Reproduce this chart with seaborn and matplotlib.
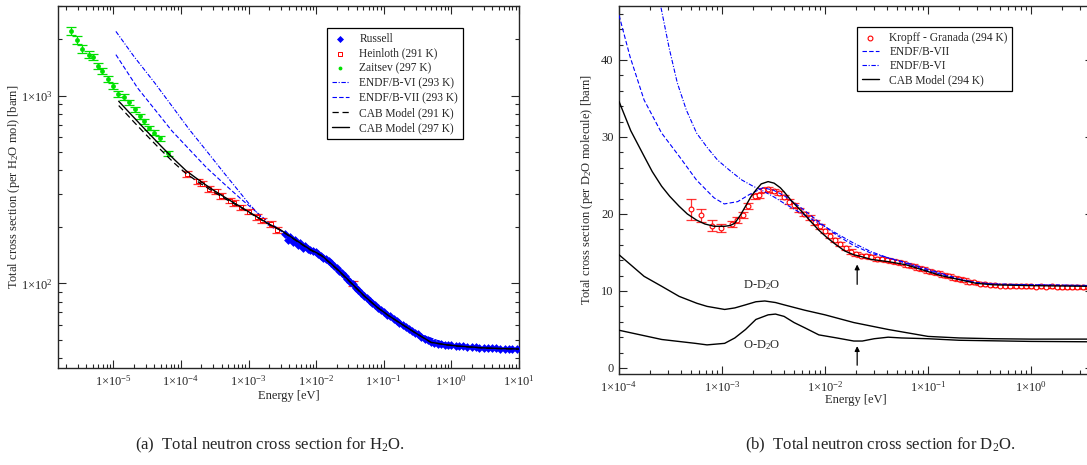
import numpy as np
import matplotlib
matplotlib.use("Agg")
import matplotlib.pyplot as plt
import seaborn as sns
from matplotlib.ticker import FuncFormatter, LogLocator, MultipleLocator, NullFormatter

# ---------------- (a) H2O ----------------
zaitsev_e = [2.38e-6, 2.88e-6, 3.39e-6, 4.29e-6, 5.06e-6, 5.96e-6, 6.78e-6, 8.38e-6, 1.0e-5, 1.18e-5,
             1.42e-5, 1.68e-5, 2.07e-5, 2.45e-5, 2.81e-5, 3.40e-5, 4.01e-5, 4.95e-5, 6.41e-5]
zaitsev_xs = [2213, 1982, 1771, 1652, 1603, 1442, 1358, 1231, 1130, 1020,
              984, 922, 844, 776, 728, 672, 634, 591, 492]
zaitsev_err = [110, 95, 80, 70, 65, 58, 52, 45, 40, 35, 32, 29, 26, 23, 21, 19, 18, 17, 14]

heinloth_e = [1.22e-4, 1.78e-4, 2.08e-4, 2.57e-4, 3.33e-4, 3.97e-4, 5.33e-4, 6.13e-4, 7.76e-4,
              1.0e-3, 1.32e-3, 1.57e-3, 2.11e-3, 2.67e-3, 3.55e-2]
heinloth_xs = [384, 349, 340, 319, 309, 291, 276, 268, 254, 241, 226, 217, 207, 193, 100]
heinloth_err = [14, 12, 11, 11, 10, 10, 9, 9, 8, 8, 8, 7, 7, 7, 3.5]

russell_e = [3.5e-3, 3.8e-3, 4.1e-3, 4.5e-3, 4.9e-3, 5.3e-3, 5.8e-3, 6.3e-3, 6.9e-3, 7.5e-3,
             8.2e-3, 9.0e-3, 9.8e-3, 1.07e-2, 1.17e-2, 1.28e-2, 1.40e-2, 1.53e-2, 1.67e-2, 1.83e-2,
             2.0e-2, 2.2e-2, 2.4e-2, 2.65e-2, 2.9e-2, 3.2e-2, 3.5e-2, 3.85e-2, 4.2e-2, 4.6e-2,
             5.1e-2, 5.6e-2, 6.2e-2, 6.8e-2, 7.5e-2, 8.3e-2, 9.2e-2, 0.102, 0.113, 0.125,
             0.14, 0.155, 0.17, 0.19, 0.21, 0.235, 0.26, 0.29, 0.32, 0.36,
             0.40, 0.45, 0.5, 0.56, 0.63, 0.7, 0.8, 0.9, 1.0, 1.15,
             1.3, 1.5, 1.7, 2.0, 2.3, 2.6, 3.0, 3.5, 4.0, 4.6, 5.3, 6.1, 7.0, 8.0, 9.2]
russell_xs = [183, 170, 176, 165, 171, 160, 164, 155, 158, 152,
              151, 148, 146, 143, 140, 137, 134, 131, 128, 124,
              120, 116, 113, 110, 106, 102, 99, 95, 92, 89,
              86, 83.5, 80.8, 78.4, 76.2, 74.0, 72.0, 70.0, 68.2, 66.6,
              64.8, 63.2, 61.8, 60.2, 58.8, 57.2, 55.8, 54.6, 53.4, 52.0,
              50.8, 49.8, 48.8, 48.2, 47.7, 47.4, 47.1, 46.9, 46.7, 46.5,
              46.3, 46.1, 45.9, 45.8, 45.6, 45.5, 45.3, 45.2, 45.1, 45.0, 44.9, 44.9, 44.8, 44.8, 44.7]

cab_e = [1.2e-5, 2e-5, 3e-5, 5e-5, 8e-5, 1.2e-4, 2e-4, 3e-4, 5e-4, 8e-4, 1.2e-3, 2e-3, 3e-3,
         5e-3, 8e-3, 1.2e-2, 2e-2, 3e-2, 5e-2, 8e-2, 0.12, 0.2, 0.3, 0.5, 0.8, 1.2, 2, 3, 5, 8, 10]
cab297_xs = [933, 766, 656, 541, 456, 397, 347, 314, 280, 253, 231, 207, 192,
             170, 152, 141, 120, 104, 86.5, 74.5, 67.0, 59.5, 54.2, 48.5, 47.2, 46.4, 45.8, 45.3, 45.0, 44.8, 44.7]
cab291_xs = [885, 725, 622, 515, 436, 383, 338, 308, 276, 251, 230, 206, 191,
             169, 151, 140, 119.5, 103.5, 86.2, 74.3, 66.9, 59.4, 54.1, 48.4, 47.1, 46.3, 45.7, 45.2, 44.9, 44.7, 44.6]

endf6_e = [1.09e-5, 2e-5, 4.1e-5, 8e-5, 1.33e-4, 2.5e-4, 4.31e-4, 7e-4, 9.82e-4, 1.5e-3, 2e-3, 3e-3,
           5e-3, 1e-2, 3e-2, 0.1, 0.3, 1, 3, 10]
endf6_xs = [2197, 1622, 1167, 844, 659, 497, 388, 313, 269, 227, 202, 190,
            170, 146, 104, 70.5, 54.3, 46.8, 45.3, 44.7]
endf7_e = [1.09e-5, 2.28e-5, 4e-5, 7.38e-5, 1.3e-4, 2.39e-4, 4.5e-4, 7.76e-4, 1.2e-3, 1.99e-3, 3e-3,
           5e-3, 1e-2, 3e-2, 0.1, 0.3, 1, 3, 10]
endf7_xs = [1652, 1098, 853, 647, 521, 413, 335, 281, 246, 211, 192,
            170, 146, 104, 70.5, 54.3, 46.8, 45.3, 44.7]

h2o_xticks = [1e-5, 1e-4, 1e-3, 1e-2, 1e-1, 1e0, 1e1]
h2o_yticks = [1e2, 1e3]

# ---------------- (b) D2O ----------------
kropff_e = [4.96e-4, 6.26e-4, 7.91e-4, 9.84e-4, 1.24e-3, 1.40e-3, 1.58e-3, 1.80e-3,
            2.09e-3, 2.29e-3, 2.51e-3, 2.82e-3, 3.16e-3, 3.55e-3, 3.98e-3, 4.47e-3, 5.01e-3, 5.62e-3,
            6.31e-3, 7.08e-3, 7.94e-3, 8.91e-3, 1.0e-2, 1.12e-2, 1.26e-2, 1.41e-2, 1.58e-2, 1.78e-2,
            2.0e-2, 2.24e-2, 2.51e-2, 2.82e-2, 3.16e-2, 3.55e-2, 3.98e-2, 4.47e-2, 5.01e-2, 5.62e-2,
            6.31e-2, 7.08e-2, 7.94e-2, 8.91e-2, 0.100, 0.112, 0.126, 0.141, 0.158, 0.178,
            0.200, 0.224, 0.251, 0.282, 0.316, 0.355, 0.398, 0.447, 0.501, 0.562,
            0.631, 0.708, 0.794, 0.891, 1.00, 1.12, 1.26, 1.41, 1.58, 1.78,
            2.00, 2.24, 2.51, 2.82, 3.16, 3.55, 3.98]
kropff_xs = [20.6, 19.8, 18.5, 18.2, 18.7, 19.2, 19.9, 21.0,
             22.3, 22.4, 23.1, 23.2, 23.0, 22.7, 22.2, 21.6, 21.1, 20.5,
             20.0, 19.5, 18.9, 18.4, 17.8, 17.2, 16.6, 16.1, 15.6, 15.1,
             14.8, 14.6, 14.5, 14.4, 14.2, 14.1, 14.0, 13.9, 13.8, 13.6,
             13.4, 13.2, 13.0, 12.8, 12.6, 12.4, 12.3, 12.1, 11.9, 11.7,
             11.5, 11.4, 11.2, 11.1, 10.95, 10.85, 10.8, 10.75, 10.7, 10.7,
             10.65, 10.7, 10.6, 10.65, 10.6, 10.55, 10.6, 10.55, 10.6, 10.55,
             10.5, 10.55, 10.5, 10.55, 10.5, 10.5, 10.5]
kropff_err = [1.4, 0.9, 0.7, 0.5, 0.4, 0.4, 0.4, 0.4,
              0.35, 0.35, 0.3, 0.3, 0.3, 0.3, 0.3, 0.3, 0.3, 0.3,
              0.3, 0.3, 0.3, 0.3, 0.3, 0.3, 0.3, 0.3, 0.3, 0.3,
              0.25, 0.25, 0.25, 0.25, 0.25, 0.25, 0.25, 0.25, 0.25, 0.25,
              0.25, 0.25, 0.25, 0.25, 0.25, 0.25, 0.25, 0.25, 0.25, 0.25,
              0.25, 0.25, 0.25, 0.25, 0.2, 0.2, 0.2, 0.2, 0.2, 0.2,
              0.2, 0.2, 0.2, 0.2, 0.2, 0.2, 0.2, 0.2, 0.2, 0.2,
              0.2, 0.2, 0.2, 0.2, 0.2, 0.2, 0.2]

d_endf7_e = [1e-4, 1.28e-4, 1.75e-4, 2.59e-4, 3.83e-4, 5.65e-4, 8.35e-4, 1.05e-3, 1.42e-3, 1.83e-3,
             2.49e-3, 3.14e-3, 3.98e-3, 5.85e-3, 8.69e-3, 1.28e-2, 1.9e-2, 2.8e-2, 4.1e-2, 6.1e-2,
             9.0e-2, 0.133, 0.197, 0.29, 0.43, 0.94, 4.0]
d_endf7_xs = [45.8, 40.4, 34.8, 30.5, 27.5, 24.4, 22.1, 21.3, 21.6, 22.5,
              23.4, 23.1, 22.4, 20.8, 19.0, 17.3, 15.9, 14.9, 14.3, 13.6,
              12.8, 12.2, 11.5, 11.1, 10.9, 10.8, 10.7]
d_endf6_e = [2.45e-4, 3.07e-4, 3.68e-4, 4.5e-4, 5.66e-4, 7.2e-4, 9.04e-4, 1.2e-3, 1.56e-3, 2.0e-3,
             2.49e-3, 3.2e-3, 3.98e-3, 5.85e-3, 8.69e-3, 1.28e-2, 1.9e-2, 2.8e-2, 4.1e-2, 6.1e-2,
             9e-2, 0.133, 0.197, 0.29, 0.43, 0.94, 4.0]
d_endf6_xs = [48.0, 41.5, 37.0, 33.5, 30.5, 28.6, 27.0, 25.6, 24.4, 23.6,
              23.0, 22.2, 21.4, 20.1, 18.8, 17.5, 16.2, 15.1, 14.3, 13.7,
              13.0, 12.3, 11.6, 11.1, 10.9, 10.8, 10.7]

d_cab_e = [1e-4, 1.3e-4, 1.75e-4, 2.1e-4, 2.59e-4, 3.1e-4, 3.83e-4, 4.6e-4, 5.66e-4, 6.8e-4,
           8.36e-4, 1.06e-3, 1.2e-3, 1.33e-3, 1.5e-3, 1.69e-3, 1.9e-3, 2.13e-3, 2.4e-3, 2.8e-3,
           3.2e-3, 3.68e-3, 4.1e-3, 4.65e-3, 5.3e-3, 6.36e-3, 7.4e-3, 8.69e-3, 1.05e-2, 1.28e-2,
           1.55e-2, 1.9e-2, 2.2e-2, 2.8e-2, 4.14e-2, 6.11e-2, 9.04e-2, 0.133, 0.197, 0.291,
           0.43, 0.94, 4.0]
d_cab_xs = [34.6, 30.8, 27.5, 25.5, 23.6, 22.3, 21.0, 20.0, 19.2, 18.7,
            18.4, 18.4, 18.5, 18.8, 19.8, 21.0, 22.2, 23.1, 23.9, 24.2,
            24.0, 23.4, 22.7, 21.8, 21.0, 19.9, 18.9, 17.9, 16.9, 16.0,
            15.2, 14.7, 14.5, 14.1, 13.8, 13.4, 12.7, 12.0, 11.5, 11.0,
            10.8, 10.7, 10.6]

dd2o_e = [1e-4, 1.75e-4, 2.6e-4, 3.83e-4, 5.7e-4, 7.15e-4, 1.06e-3, 1.33e-3, 1.69e-3, 2.13e-3,
          2.6e-3, 3.3e-3, 4.0e-3, 6.36e-3, 1.0e-2, 1.9e-2, 4.1e-2, 0.1, 0.2, 0.43, 1.0, 4.0]
dd2o_xs = [14.7, 11.9, 10.6, 9.3, 8.4, 8.0, 7.6, 7.8, 8.2, 8.6,
           8.7, 8.5, 8.2, 7.5, 6.9, 5.9, 5.0, 4.1, 3.9, 3.8, 3.75, 3.75]
od2o_e = [1e-4, 2.6e-4, 5.5e-4, 7.15e-4, 1.06e-3, 1.33e-3, 1.69e-3, 2.13e-3, 2.8e-3, 3.3e-3,
          4.0e-3, 5.0e-3, 6.4e-3, 8.7e-3, 1.3e-2, 1.9e-2, 2.3e-2, 3.0e-2, 4.1e-2, 5.5e-2,
          0.1, 0.2, 1.0, 4.0]
od2o_xs = [4.9, 3.7, 3.2, 3.0, 3.2, 3.9, 5.0, 6.3, 6.9, 7.0,
           6.7, 5.9, 5.2, 4.3, 3.9, 3.5, 3.5, 3.8, 4.0, 3.9,
           3.8, 3.6, 3.45, 3.4]

d2o_xticks = [1e-4, 1e-3, 1e-2, 1e-1, 1e0]
d2o_yticks = [0, 10, 20, 30, 40]

arrow_e = 2.05e-2
arrow_upper = (10.5, 13.8)
arrow_lower = (0.0, 3.2)

BLUE, RED, GREEN = "#0000ff", "#ff0000", "#00e000"
TICK_FS, LABEL_FS, LEG_FS = 9, 9, 8.3


def sci_fmt(v, pos):
    return "1\u00d710$^{%d}$" % int(round(np.log10(v)))


def style_axes(ax, xticks, logy=True):
    ax.tick_params(which="both", direction="in", top=True, right=True, labelsize=TICK_FS, width=0.8, pad=4)
    ax.tick_params(which="major", length=5.5)
    ax.tick_params(which="minor", length=3)
    ax.set_xticks(xticks)
    ax.xaxis.set_minor_locator(LogLocator(base=10, subs=np.arange(2, 10) * 1.0, numticks=20))
    ax.xaxis.set_major_formatter(FuncFormatter(sci_fmt))
    ax.xaxis.set_minor_formatter(NullFormatter())
    if logy:
        ax.yaxis.set_major_formatter(FuncFormatter(sci_fmt))
        ax.yaxis.set_minor_formatter(NullFormatter())
    for s in ax.spines.values():
        s.set_linewidth(1.0)
    ax.set_xlabel("Energy [eV]", fontsize=LABEL_FS)


sns.set_style("ticks")
plt.rcParams["font.family"] = ["Liberation Serif", "DejaVu Serif"]
plt.rcParams["mathtext.fontset"] = "custom"
plt.rcParams["mathtext.rm"] = "Liberation Serif"
plt.rcParams["mathtext.it"] = "Liberation Serif:italic"

fig = plt.figure(figsize=(10.87, 4.65), dpi=100)
ax1 = fig.add_axes([0.0534, 0.2086, 0.4241, 0.7785])
ax2 = fig.add_axes([0.5695, 0.1957, 0.4361, 0.7914])

# ---- panel (a) ----
ax1.set_xscale("log")
ax1.set_yscale("log")
sns.lineplot(x=endf6_e, y=endf6_xs, ax=ax1, color=BLUE, lw=0.8, linestyle=(0, (4, 1.5, 1, 1.5)),
             sort=False, estimator=None, label="ENDF/B-VI (293 K)", zorder=2)
sns.lineplot(x=endf7_e, y=endf7_xs, ax=ax1, color=BLUE, lw=0.8, linestyle=(0, (4, 2)),
             sort=False, estimator=None, label="ENDF/B-VII (293 K)", zorder=2)
ax1.errorbar(zaitsev_e, zaitsev_xs, yerr=zaitsev_err, fmt="none", ecolor=GREEN, elinewidth=0.9,
             capsize=3.5, capthick=0.9, zorder=3)
sns.scatterplot(x=zaitsev_e, y=zaitsev_xs, ax=ax1, color=GREEN, s=12, marker="o", linewidth=0,
                label="Zaitsev (297 K)", zorder=3)
ax1.errorbar(heinloth_e, heinloth_xs, yerr=heinloth_err, fmt="none", ecolor=RED, elinewidth=0.9,
             capsize=3.5, capthick=0.9, alpha=0.8, zorder=3)
sns.scatterplot(x=heinloth_e, y=heinloth_xs, ax=ax1, color=RED, facecolor="white", edgecolor=RED,
                s=10, marker="s", linewidth=0.7, label="Heinloth (291 K)", zorder=3)
sns.scatterplot(x=russell_e, y=russell_xs, ax=ax1, color=BLUE, s=20, marker="D", linewidth=0,
                label="Russell", zorder=3)
sns.lineplot(x=cab_e, y=cab291_xs, ax=ax1, color="black", lw=0.9, linestyle=(0, (5, 3)),
             sort=False, estimator=None, label="CAB Model (291 K)", zorder=4)
sns.lineplot(x=cab_e, y=cab297_xs, ax=ax1, color="black", lw=1.0,
             sort=False, estimator=None, label="CAB Model (297 K)", zorder=4)
ax1.set_xlim(1.52e-6, 10)
ax1.set_ylim(35.4, 3000)
style_axes(ax1, h2o_xticks)
ax1.set_yticks(h2o_yticks)
ax1.set_ylim(35.4, 3000)
ax1.set_xlim(1.52e-6, 10)
ax1.set_ylabel("Total cross section (per H$_2$O mol) [barn]", fontsize=LABEL_FS)
ax1.yaxis.set_label_coords(-0.078, 0.5)
ax1.xaxis.set_label_coords(0.5, -0.062)

order1 = ["Russell", "Heinloth (291 K)", "Zaitsev (297 K)", "ENDF/B-VI (293 K)",
          "ENDF/B-VII (293 K)", "CAB Model (291 K)", "CAB Model (297 K)"]
h, l = ax1.get_legend_handles_labels()
hd = dict(zip(l, h))
leg1 = ax1.legend([hd[k] for k in order1], order1, loc="upper left", bbox_to_anchor=(0.5835, 0.939),
                  borderaxespad=0, fontsize=LEG_FS, frameon=True, fancybox=False, framealpha=1,
                  edgecolor="black", handlelength=1.5, handletextpad=0.9, labelspacing=0.25,
                  borderpad=0.4, markerscale=0.8)
leg1.get_frame().set_linewidth(0.9)

# ---- panel (b) ----
ax2.set_xscale("log")
ax2.errorbar(kropff_e, kropff_xs, yerr=kropff_err, fmt="none", ecolor=RED, elinewidth=0.9,
             capsize=3.5, capthick=0.9, alpha=0.8, zorder=2)
sns.scatterplot(x=kropff_e, y=kropff_xs, ax=ax2, color=RED, facecolor="white", edgecolor=RED,
                s=12, marker="o", linewidth=0.8, label="Kropff - Granada (294 K)", zorder=2)
sns.lineplot(x=d_endf7_e, y=d_endf7_xs, ax=ax2, color=BLUE, lw=0.8, linestyle=(0, (4, 2)),
             sort=False, estimator=None, label="ENDF/B-VII", zorder=3)
sns.lineplot(x=d_endf6_e, y=d_endf6_xs, ax=ax2, color=BLUE, lw=0.8, linestyle=(0, (4, 1.5, 1, 1.5)),
             sort=False, estimator=None, label="ENDF/B-VI", zorder=3)
sns.lineplot(x=d_cab_e, y=d_cab_xs, ax=ax2, color="black", lw=1.0,
             sort=False, estimator=None, label="CAB Model (294 K)", zorder=4)
sns.lineplot(x=dd2o_e, y=dd2o_xs, ax=ax2, color="black", lw=1.0, sort=False, estimator=None, zorder=4)
sns.lineplot(x=od2o_e, y=od2o_xs, ax=ax2, color="black", lw=1.0, sort=False, estimator=None, zorder=4)
ax2.text(2.45e-3, 10.8, "D-D$_2$O", fontsize=LABEL_FS, ha="center", va="center")
ax2.text(2.45e-3, 3.0, "O-D$_2$O", fontsize=LABEL_FS, ha="center", va="center")
for lo, hi in (arrow_upper, arrow_lower):
    ax2.annotate("", xy=(arrow_e, hi), xytext=(arrow_e, lo),
                 arrowprops=dict(arrowstyle="-|>", color="black", lw=0.9, mutation_scale=7))
style_axes(ax2, d2o_xticks, logy=False)
ax2.set_yticks(d2o_yticks)
ax2.yaxis.set_minor_locator(MultipleLocator(2))
ax2.tick_params(axis="y", which="minor", right=False)
ax2.set_xlim(1e-4, 4.0)
ax2.set_ylim(-0.78, 47)
ax2.set_ylabel("Total cross section (per D$_2$O molecule) [barn]", fontsize=LABEL_FS)
ax2.yaxis.set_label_coords(-0.051, 0.5)
ax2.xaxis.set_label_coords(0.5, -0.054)

order2 = ["Kropff - Granada (294 K)", "ENDF/B-VII", "ENDF/B-VI", "CAB Model (294 K)"]
h, l = ax2.get_legend_handles_labels()
hd = dict(zip(l, h))
leg2 = ax2.legend([hd[k] for k in order2], order2, loc="upper left", bbox_to_anchor=(0.502, 0.943),
                  borderaxespad=0, fontsize=LEG_FS, frameon=True, fancybox=False, framealpha=1,
                  edgecolor="black", handlelength=1.5, handletextpad=0.9, labelspacing=0.2,
                  borderpad=0.4)
leg2.get_frame().set_linewidth(0.9)

fig.text(270 / 1087, 1 - 445 / 465, "(a)  Total neutron cross section for H$_2$O.",
         ha="center", va="center", fontsize=12)
fig.text(880 / 1087, 1 - 445 / 465, "(b)  Total neutron cross section for D$_2$O.",
         ha="center", va="center", fontsize=12)

fig.savefig("out.png", dpi=100)
